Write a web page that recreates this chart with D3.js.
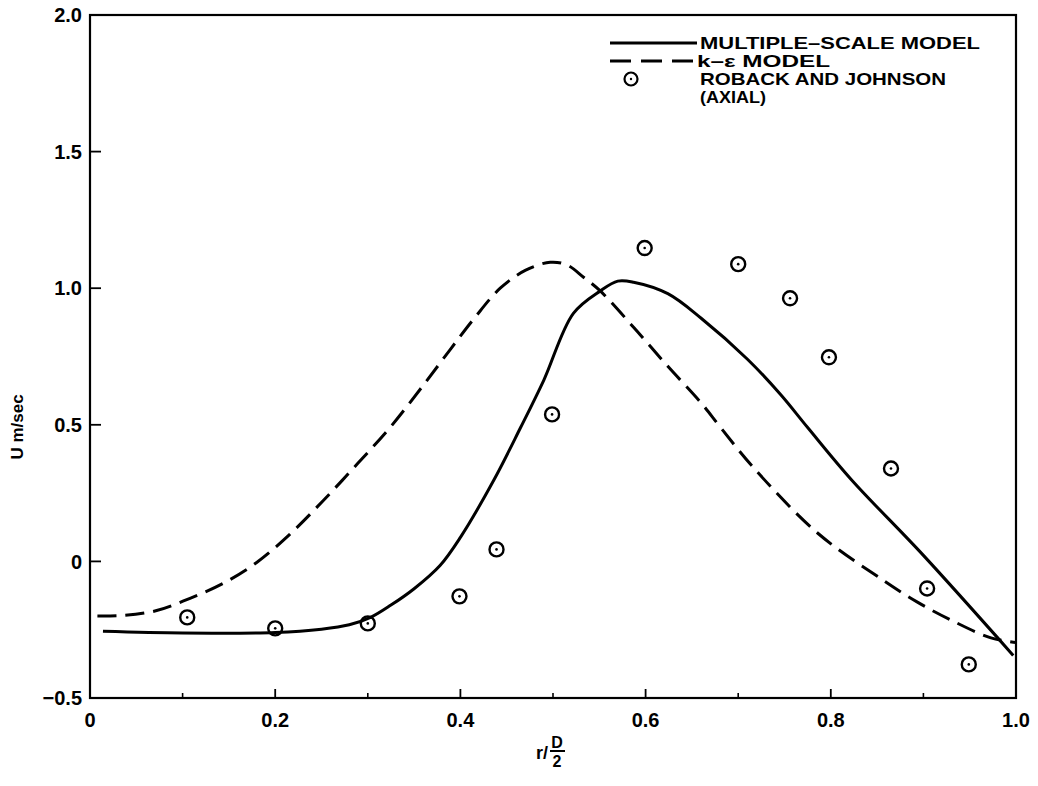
<!DOCTYPE html>
<html><head><meta charset="utf-8">
<script src="https://cdn.jsdelivr.net/npm/d3@7"></script>
<style>body{margin:0;background:#fff}svg{display:block}text{font-family:"Liberation Sans",Arial,sans-serif;fill:#000}</style>
</head><body>
<svg id="c" width="1038" height="786"></svg>
<script>
// data
const xTicks = [0, 0.2, 0.4, 0.6, 0.8, 1.0];
const xTickLabels = ["0", "0.2", "0.4", "0.6", "0.8", "1.0"];
const xMinorTicks = [0.1, 0.3, 0.5, 0.7, 0.9];
const yTicks = [-0.5, 0, 0.5, 1.0, 1.5, 2.0];
const yTickLabels = ["\u22120.5", "0", "0.5", "1.0", "1.5", "2.0"];

const multiScaleX = [0.014,0.1,0.2,0.25,0.28,0.303,0.325,0.35,0.378,0.40,0.436,0.465,0.49,0.522,0.551,0.57,0.587,0.624,0.66,0.71,0.746,0.775,0.822,0.9,0.997];
const multiScaleY = [-0.256,-0.262,-0.26,-0.248,-0.232,-0.205,-0.16,-0.1,-0.015,0.088,0.297,0.49,0.663,0.908,0.99,1.026,1.022,0.98,0.89,0.74,0.61,0.49,0.3,0.022,-0.344];

const kepsX = [0.008,0.036,0.072,0.108,0.144,0.18,0.216,0.252,0.289,0.324,0.36,0.39,0.415,0.443,0.47,0.497,0.515,0.533,0.551,0.587,0.624,0.66,0.681,0.716,0.786,0.857,0.894,0.93,0.973,1.0];
const kepsY = [-0.2,-0.198,-0.18,-0.135,-0.08,-0.004,0.1,0.223,0.358,0.49,0.645,0.78,0.89,1.0,1.065,1.095,1.085,1.04,0.99,0.857,0.714,0.58,0.49,0.345,0.103,-0.07,-0.15,-0.215,-0.28,-0.297];

const robackX = [0.105,0.2,0.30,0.399,0.439,0.499,0.599,0.70,0.756,0.798,0.865,0.904,0.949];
const robackY = [-0.205,-0.245,-0.227,-0.128,0.044,0.538,1.147,1.088,0.963,0.747,0.34,-0.099,-0.377];

const legendLabels = ["MULTIPLE\u2013SCALE MODEL", "k\u2013\u03B5 MODEL", "ROBACK AND JOHNSON", "(AXIAL)"];
const legendWidths = [280, 133, 246, 66];

const svg = d3.select("#c");
const x = d3.scaleLinear().domain([0, 1]).range([90, 1016]);
const y = d3.scaleLinear().domain([-0.5, 2]).range([698, 15]);

// frame
svg.append("rect").attr("x", x(0)).attr("y", y(2)).attr("width", x(1)-x(0)).attr("height", y(-0.5)-y(2))
  .attr("fill", "none").attr("stroke", "#000").attr("stroke-width", 2.2);

// x ticks
svg.selectAll(".xt").data(xTicks.slice(1, -1)).join("line")
  .attr("x1", d => x(d)).attr("x2", d => x(d)).attr("y1", y(-0.5)).attr("y2", y(-0.5) - 9)
  .attr("stroke", "#000").attr("stroke-width", 1.8);
svg.selectAll(".xm").data(xMinorTicks).join("line")
  .attr("x1", d => x(d)).attr("x2", d => x(d)).attr("y1", y(-0.5)).attr("y2", y(-0.5) - 5)
  .attr("stroke", "#000").attr("stroke-width", 1.6);
svg.selectAll(".xl").data(xTicks).join("text")
  .attr("x", d => x(d)).attr("y", 727).attr("text-anchor", "middle")
  .attr("font-size", 20).attr("font-weight", "bold")
  .text((d, i) => xTickLabels[i]);

// y ticks
svg.selectAll(".yt").data(yTicks.slice(1, -1)).join("line")
  .attr("x1", x(0)).attr("x2", x(0) + 11).attr("y1", d => y(d)).attr("y2", d => y(d))
  .attr("stroke", "#000").attr("stroke-width", 1.8);
svg.selectAll(".yl").data(yTicks).join("text")
  .attr("x", 82).attr("y", d => y(d)).attr("dy", "0.36em").attr("text-anchor", "end")
  .attr("font-size", 20).attr("font-weight", "bold")
  .text((d, i) => yTickLabels[i]);

// axis titles
svg.append("text").attr("transform", "translate(23,427) rotate(-90)")
  .attr("text-anchor", "middle").attr("font-size", 17).attr("font-weight", 600).text("U m/sec");
const xt = svg.append("g").attr("transform", "translate(536,0)");
xt.append("text").attr("x", 0).attr("y", 759).attr("font-size", 18).attr("font-weight", "bold").text("r/");
xt.append("text").attr("x", 21).attr("y", 748).attr("text-anchor", "middle").attr("font-size", 16).attr("font-weight", "bold").text("D");
xt.append("line").attr("x1", 14).attr("x2", 29).attr("y1", 751).attr("y2", 751).attr("stroke", "#000").attr("stroke-width", 2);
xt.append("text").attr("x", 21).attr("y", 767).attr("text-anchor", "middle").attr("font-size", 16).attr("font-weight", "bold").text("2");

// curves
const line = d3.line().x(d => x(d[0])).y(d => y(d[1])).curve(d3.curveCatmullRom.alpha(0.5));
svg.append("path").datum(multiScaleX.map((v, i) => [v, multiScaleY[i]]))
  .attr("d", line).attr("fill", "none").attr("stroke", "#000").attr("stroke-width", 3);
svg.append("path").datum(kepsX.map((v, i) => [v, kepsY[i]]))
  .attr("d", line).attr("fill", "none").attr("stroke", "#000").attr("stroke-width", 3)
  .attr("stroke-dasharray", "19 9");

// data points
const pts = svg.selectAll(".pt").data(robackX.map((v, i) => [v, robackY[i]])).join("g")
  .attr("transform", d => `translate(${x(d[0])},${y(d[1])})`);
pts.append("circle").attr("r", 7).attr("fill", "none").attr("stroke", "#000").attr("stroke-width", 2.4);
pts.append("circle").attr("r", 1.3).attr("fill", "#000");

// legend
const lg = svg.append("g");
lg.append("line").attr("x1", 610).attr("x2", 697).attr("y1", 43).attr("y2", 43).attr("stroke", "#000").attr("stroke-width", 3);
lg.append("line").attr("x1", 610).attr("x2", 693).attr("y1", 61).attr("y2", 61).attr("stroke", "#000").attr("stroke-width", 3).attr("stroke-dasharray", "21 10");
lg.append("circle").attr("cx", 631).attr("cy", 79).attr("r", 6.5).attr("fill", "none").attr("stroke", "#000").attr("stroke-width", 2.2);
lg.append("circle").attr("cx", 631).attr("cy", 79).attr("r", 1.2).attr("fill", "#000");
lg.selectAll("text").data(legendLabels).join("text")
  .attr("x", (d, i) => i === 1 ? 697 : 700).attr("y", (d, i) => 43 + i * 18).attr("dy", "0.36em")
  .attr("font-size", 17).attr("font-weight", "bold")
  .attr("textLength", (d, i) => legendWidths[i]).attr("lengthAdjust", "spacingAndGlyphs")
  .text(d => d);
</script>
</body></html>
